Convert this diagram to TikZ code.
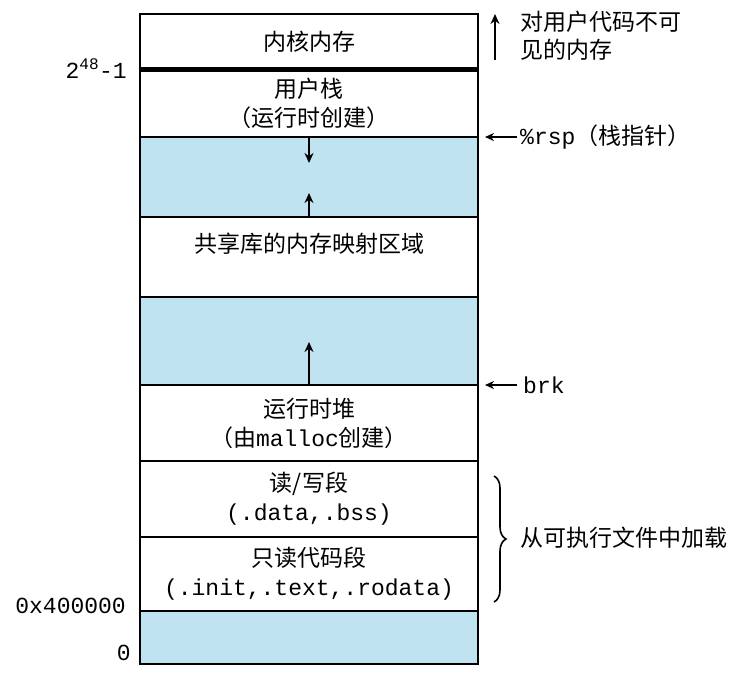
\documentclass[tikz,border=0pt]{standalone}
\usepackage{fontspec}
\setmainfont{Noto Sans CJK SC}
\setmonofont{Liberation Mono}
\usetikzlibrary{arrows.meta,positioning,decorations.pathreplacing}
\definecolor{gapblue}{RGB}{192,227,242}
\tikzset{
  seg/.style={rectangle, draw=black, line width=2.5pt, fill=white, outer sep=0pt,
              inner sep=0pt, minimum width=338pt, align=center,
              font=\fontsize{23}{29}\selectfont},
  gapseg/.style={seg, fill=gapblue},
  growarrow/.style={-{Stealth[length=10pt,width=9pt]}, line width=1.6pt},
  ptr/.style ={-{Stealth[length=9pt,width=8pt]}, line width=1.6pt},
  sidetxt/.style={anchor=west, inner sep=0pt, align=left,
                  font=\fontsize{23}{28}\selectfont},
  addr/.style={anchor=east, inner sep=0pt, font=\fontsize{23}{28}\selectfont\ttfamily},
  ldbrace/.style={decorate, decoration={brace, amplitude=12pt}, line width=1.6pt},
}
\begin{document}
\begin{tikzpicture}[x=1pt,y=-1pt]
  \useasboundingbox (0,0) rectangle (751,678);
  % address space, top to bottom
  \node[seg, minimum height=55pt, anchor=north west] (kernel) at (140,14) {内核内存};
  \node[seg, minimum height=68pt, below=0pt of kernel] (ustack) {用户栈\\（运行时创建）};
  \node[gapseg, minimum height=80pt, below=0pt of ustack] (gapA) {};
  \node[seg, minimum height=80pt, below=0pt of gapA] (shlib) {};
  \node[gapseg, minimum height=88pt, below=0pt of shlib] (gapB) {};
  \node[seg, minimum height=76pt, below=0pt of gapB] (heap) {运行时堆\\（由\texttt{malloc}创建）};
  \node[seg, minimum height=76pt, below=0pt of heap] (rwseg) {读/写段\\\texttt{(.data,.bss)}};
  \node[seg, minimum height=74pt, below=0pt of rwseg] (roseg) {只读代码段\\\texttt{(.init,.text,.rodata)}};
  \node[gapseg, minimum height=53pt, below=0pt of roseg] (gapC) {};
  \node[font=\fontsize{23}{29}\selectfont, inner sep=0pt, below=16pt of shlib.north] (shlibtxt) {共享库的内存映射区域};
  \draw[line width=5pt] (kernel.south west) -- (kernel.south east);

  % growth arrows
  \coordinate[below=26pt of gapA.north] (stacktip);
  \coordinate[above=24pt of gapA.south] (mmaptip);
  \coordinate[above=43pt of gapB.south] (heaptip);
  \draw[growarrow] (gapA.north) -- (stacktip);
  \draw[growarrow] (gapA.south) -- (mmaptip);
  \draw[growarrow] (gapB.south) -- (heaptip);

  % right side
  \coordinate (kvtop) at (495,14);
  \coordinate (kvbot) at (495,60);
  \draw[growarrow] (kvbot) -- (kvtop);
  \node[sidetxt] (hidden) at (520,36) {对用户代码不可\\见的内存};
  \node[sidetxt, right=42pt of gapA.north east] (rsp) {\texttt{\%rsp}（栈指针）};
  \draw[ptr, shorten <=3pt, shorten >=7pt] (rsp.west) -- (gapA.north east);
  \node[sidetxt, right=45pt of gapB.south east] (brk) {\texttt{brk}};
  \draw[ptr, shorten <=6pt, shorten >=7pt] (brk.west) -- (gapB.south east);
  \coordinate (ldtop) at (494,476);
  \coordinate (ldbot) at (494,602);
  \draw[ldbrace] (ldtop) -- (ldbot);
  \node[sidetxt] (loaded) at (520,538) {从可执行文件中加载};

  % left side addresses
  \node[addr, left=13pt of ustack.north west] (umax) {2\textsuperscript{48}-1};
  \node[addr] (textbase) at (126,606) {0x400000};
  \node[addr] (zero) at (131,653) {0};
\end{tikzpicture}
\end{document}
